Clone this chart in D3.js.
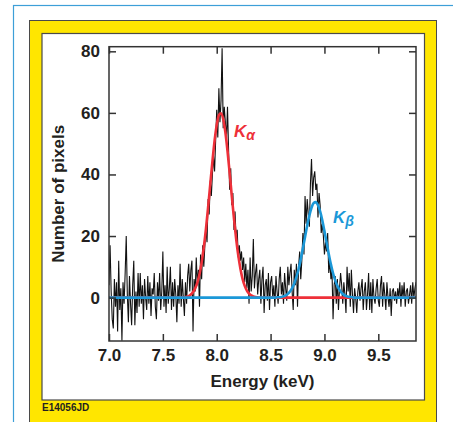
<!DOCTYPE html>
<html>
<head>
<meta charset="utf-8">
<script src="https://cdn.jsdelivr.net/npm/d3@7"></script>
<style>
    body { margin: 0; background: #fff; }
    svg { display: block; font-family: 'Liberation Sans', Arial, Helvetica, sans-serif; }
</style>
</head>
<body>
<svg id="chart"></svg>
<script>
// measured spectrum, counts per 0.01 keV bin starting at 7.00 keV
const binStart = 7.0;
const binWidth = 0.01;
const counts = [
    4, 17, 2, -7, -10, 6, -3, 5, -11, 12,
    -4, 3, -14, 5, -2, 8, 20, 1, -8, 7,
    -2, -9, 4, 12, -9, 2, -5, 8, -3, 8,
    -2, 4, -7, 6, 0, -4, 7, -2, 5, -6,
    3, 1, 8, -3, -7, 5, -1, 8, -4, 2,
    15, -3, 4, -5, 10, -2, 3, 10, -4, 5,
    -3, 6, 1, -8, 4, -2, 11, -3, 6, 0,
    -6, 5, -2, 7, 11, 2, 9, 12, -11, 6,
    2, 13, 4, 9, -3, 14, 6, 17, 10, 17,
    22, 18, 32, 27, 38, 33, 40, 46, 41, 51,
    61, 52, 68, 57, 64, 81, 55, 62, 57, 51,
    62, 48, 35, 42, 30, 34, 22, 28, 19, 22,
    13, 17, 12, 15, 9, 13, 5, 11, 3, 9,
    -2, 13, 2, 7, 19, 3, 8, 11, 1, 6,
    9, -2, 6, 10, -5, 4, 6, -1, 8, -4,
    5, 7, 0, 4, -3, 7, 2, -2, 6, 10,
    1, 5, -2, 8, 3, -1, 10, 4, 8, 11,
    2, -4, 9, 4, 11, -3, 10, 15, 6, 12,
    21, 14, 33, 24, 32, 27, 23, 37, 45, 33,
    39, 41, 35, 37, 26, 34, 30, 21, 24, 20,
    14, 18, 15, 21, 8, 12, 6, 9, -7, 4,
    7, -2, 6, -4, 3, 8, 4, -2, 5, 1,
    -5, 10, 2, 8, -3, 9, 1, -5, 3, 0,
    -5, 2, 5, -1, 3, 6, -4, 2, 5, -4,
    1, 8, -4, 5, -5, 6, 0, -2, 3, 6,
    -1, -3, 4, 7, -3, 5, 1, -4, 5, 0,
    -3, 3, -6, 2, 3, -1, 2, -2, 3, 0,
    5, -3, 4, 0, 5, -3, 2, 3, -2, 1,
    4, -2, 5, 0, 3, 5,
];

// fitted K-alpha line, 0.02 keV steps from 7.60 keV
const kAlphaStart = 7.6;
const kAlphaFit = [
    0, 0, 0, 0, 0.1, 0.1, 0.3, 0.5, 1.0, 1.8,
    3.0, 4.9, 7.6, 11.4, 16.3, 22.3, 29.3, 36.8, 44.2, 50.9,
    56.1, 59.3, 59.9, 58.0, 53.8, 47.7, 40.5, 33.0, 25.7, 19.2,
    13.7, 9.4, 6.1, 3.8, 2.3, 1.3, 0.7, 0.4, 0.2, 0.1,
    0,
];

// fitted K-beta line, 0.02 keV steps from 8.50 keV
const kBetaStart = 8.5;
const kBetaFit = [
    0, 0, 0, 0.1, 0.1, 0.2, 0.4, 0.7, 1.2, 2.0,
    3.1, 4.6, 6.7, 9.3, 12.5, 16.0, 19.7, 23.4, 26.7, 29.2,
    30.7, 31.0, 30.0, 28.0, 25.1, 21.6, 17.9, 14.2, 10.8, 7.9,
    5.6, 3.8, 2.5, 1.5, 0.9, 0.5, 0.3, 0.2, 0.1, 0,
];
const fitStep = 0.02;

const xTicks = [7.0, 7.5, 8.0, 8.5, 9.0, 9.5];
const yTicks = [0, 20, 40, 60, 80];
const xDomain = [7.0, 9.85];
const yDomain = [-14.1, 81.5];

const width = 453;
const height = 422;
const red = '#ee3039';
const blue = '#1b98d8';
const ink = '#231f20';

const svg = d3.select('#chart').attr('width', width).attr('height', height);

// outer frame, yellow mat and white panel
svg.append('rect')
    .attr('x', 13.5).attr('y', 5.5)
    .attr('width', 460).attr('height', 440)
    .attr('fill', 'none')
    .attr('stroke', '#3d9fd8')
    .attr('stroke-width', 1.2);
svg.append('rect')
    .attr('x', 29.5).attr('y', 20.5)
    .attr('width', 407).attr('height', 420)
    .attr('fill', '#ffe600')
    .attr('stroke', '#4a4a4a')
    .attr('stroke-width', 1);
svg.append('rect')
    .attr('x', 42).attr('y', 33.5)
    .attr('width', 382.5).attr('height', 366.5)
    .attr('fill', '#fff')
    .attr('stroke', '#4a4a4a')
    .attr('stroke-width', 1.2);

const plot = { left: 109, right: 416, top: 46.7, bottom: 341 };

var x = d3.scaleLinear().domain(xDomain).range([plot.left, plot.right]);
var y = d3.scaleLinear().domain(yDomain).range([plot.bottom, plot.top]);

svg.append('clipPath')
    .attr('id', 'plot-clip')
    .append('rect')
    .attr('x', plot.left).attr('y', plot.top)
    .attr('width', plot.right - plot.left)
    .attr('height', plot.bottom - plot.top);

const canvas = svg.append('g').attr('clip-path', 'url(#plot-clip)');

const spectrum = counts.map((c, i) => [binStart + i * binWidth, c]);
const line = d3.line().x((d) => x(d[0])).y((d) => y(d[1]));

canvas.append('path')
    .datum(spectrum)
    .attr('d', line)
    .attr('fill', 'none')
    .attr('stroke', '#111')
    .attr('stroke-width', 1.1)
    .attr('stroke-linejoin', 'miter');

function fitPoints(start, values) {
    const pts = values.map((v, i) => [start + i * fitStep, v]);
    return [[xDomain[0], 0]].concat(pts, [[xDomain[1], 0]]);
}

const smooth = d3.line()
    .x((d) => x(d[0]))
    .y((d) => y(d[1]))
    .curve(d3.curveMonotoneX);

canvas.append('path')
    .datum(fitPoints(kAlphaStart, kAlphaFit))
    .attr('d', smooth)
    .attr('fill', 'none')
    .attr('stroke', red)
    .attr('stroke-width', 2.6);

canvas.append('path')
    .datum(fitPoints(kBetaStart, kBetaFit))
    .attr('d', smooth)
    .attr('fill', 'none')
    .attr('stroke', blue)
    .attr('stroke-width', 2.6);

// axes, ticks pointing inwards on all four sides
function styleAxis(g) {
    g.select('.domain').remove();
    g.selectAll('.tick line').attr('stroke', '#333').attr('stroke-width', 1.5);
    g.selectAll('.tick text')
        .attr('fill', ink)
        .style('font-size', '17px')
        .style('font-weight', 'bold');
}

svg.append('g')
    .attr('transform', `translate(0,${plot.bottom})`)
    .call(d3.axisBottom(x).tickValues(xTicks).tickFormat(d3.format('.1f'))
        .tickSize(-7).tickPadding(8))
    .call(styleAxis);

svg.append('g')
    .attr('transform', `translate(0,${plot.top})`)
    .call(d3.axisTop(x).tickValues(xTicks).tickFormat('').tickSize(-7))
    .call(styleAxis);

svg.append('g')
    .attr('transform', `translate(${plot.left},0)`)
    .call(d3.axisLeft(y).tickValues(yTicks).tickSize(-7).tickPadding(9))
    .call(styleAxis);

svg.append('g')
    .attr('transform', `translate(${plot.right},0)`)
    .call(d3.axisRight(y).tickValues(yTicks).tickFormat('').tickSize(-7))
    .call(styleAxis);

svg.append('rect')
    .attr('x', plot.left).attr('y', plot.top)
    .attr('width', plot.right - plot.left)
    .attr('height', plot.bottom - plot.top)
    .attr('fill', 'none')
    .attr('stroke', '#333')
    .attr('stroke-width', 1.5);

// axis titles
svg.append('text')
    .attr('x', (plot.left + plot.right) / 2)
    .attr('y', 387)
    .attr('text-anchor', 'middle')
    .attr('fill', ink)
    .style('font-size', '17px')
    .style('font-weight', 'bold')
    .text('Energy (keV)');

svg.append('text')
    .attr('transform', `translate(64,${(plot.top + plot.bottom) / 2}) rotate(-90)`)
    .attr('text-anchor', 'middle')
    .attr('fill', ink)
    .style('font-size', '17px')
    .style('font-weight', 'bold')
    .text('Number of pixels');

// line labels
const kAlpha = svg.append('text')
    .attr('x', 234).attr('y', 137)
    .attr('fill', red)
    .style('font-size', '17px')
    .style('font-weight', 'bold')
    .style('font-style', 'italic');
kAlpha.append('tspan').text('K');
kAlpha.append('tspan').attr('dy', 3).style('font-size', '14px').text('α');

const kBeta = svg.append('text')
    .attr('x', 333).attr('y', 223)
    .attr('fill', blue)
    .style('font-size', '17px')
    .style('font-weight', 'bold')
    .style('font-style', 'italic');
kBeta.append('tspan').text('K');
kBeta.append('tspan').attr('dy', 3).style('font-size', '14px').text('β');

svg.append('text')
    .attr('x', 42).attr('y', 411)
    .attr('fill', ink)
    .style('font-size', '10px')
    .style('font-weight', 'bold')
    .text('E14056JD');
</script>
</body>
</html>
